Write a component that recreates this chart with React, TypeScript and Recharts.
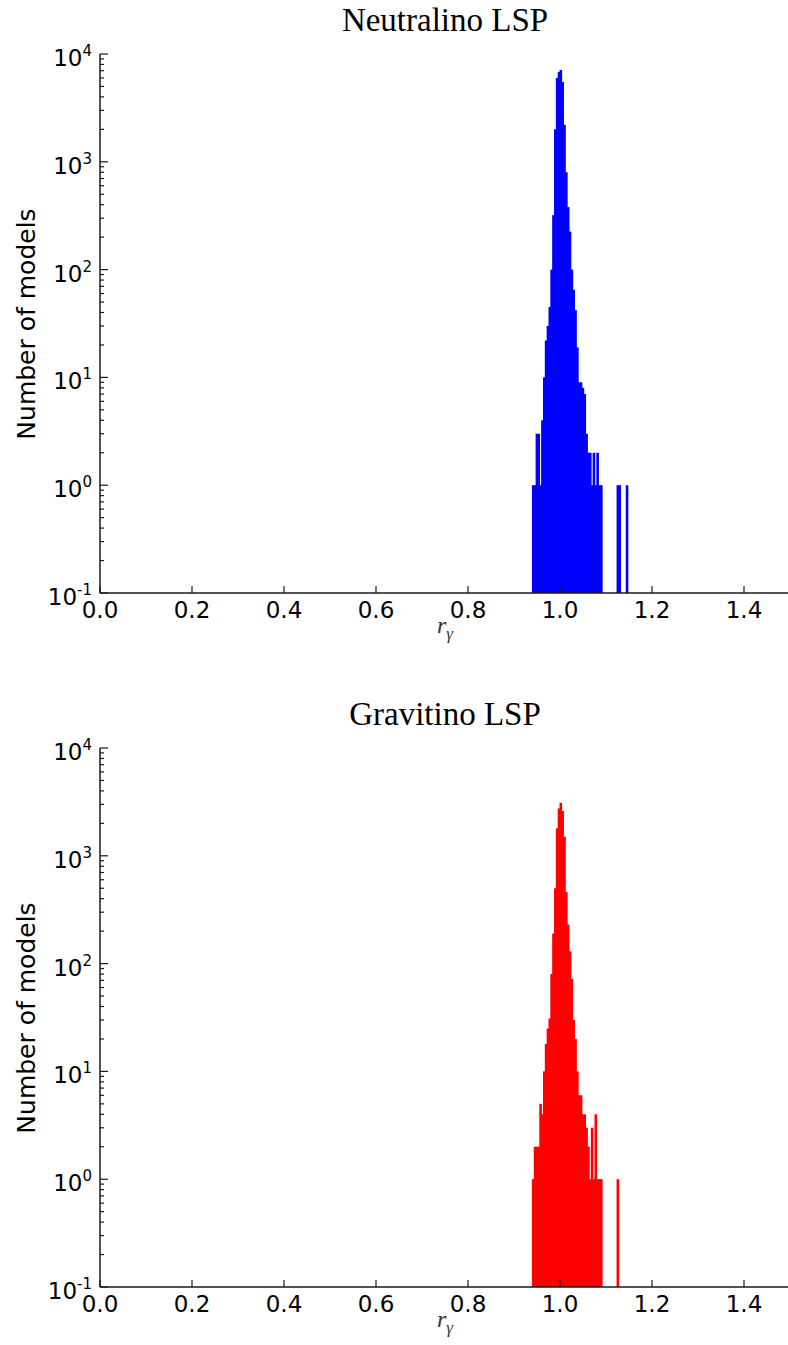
import React from "react";
import { BarChart, Bar, XAxis, YAxis } from "recharts";

// histogram bins (centre of each r_gamma bin, width 0.004)
const binCenters = [
  0.942, 0.946, 0.95, 0.954, 0.958, 0.962, 0.966, 0.97, 0.974, 0.978,
  0.982, 0.986, 0.99, 0.994, 0.998, 1.002, 1.006, 1.01, 1.014, 1.018,
  1.022, 1.026, 1.03, 1.034, 1.038, 1.042, 1.046, 1.05, 1.054, 1.058,
  1.062, 1.066, 1.07, 1.074, 1.078, 1.082, 1.086, 1.09, 1.094, 1.098,
  1.102, 1.106, 1.11, 1.114, 1.118, 1.122, 1.126, 1.13, 1.134, 1.138,
  1.142, 1.146,
];

const neutralinoCounts = [
  1, 1, 3, 3, 1, 4, 10, 22, 30, 45,
  100, 320, 2000, 6000, 6800, 7100, 5500, 2200, 800, 380,
  225, 100, 65, 42, 19, 9, 9, 8, 7, 3,
  2, 2, 1, 2, 1, 2, 1, 1, 0, 0,
  0, 0, 0, 0, 0, 0, 1, 1, 0, 0,
  0, 1,
];

const gravitinoCounts = [
  1, 2, 2, 2, 5, 4, 10, 18, 25, 31,
  80, 190, 500, 1800, 2750, 3100, 2600, 1500, 460, 230,
  130, 72, 30, 20, 10, 6, 6, 4, 4, 3,
  2, 1, 3, 1, 4, 1, 1, 1, 0, 0,
  0, 0, 0, 0, 0, 0, 1, 0, 0, 0,
  0, 0,
];

const xTicks = [0, 0.2, 0.4, 0.6, 0.8, 1.0, 1.2, 1.4];
const decadeTicks = [0.1, 1, 10, 100, 1000, 10000];
const minorTicks = [
  0.2, 0.3, 0.4, 0.5, 0.6, 0.7, 0.8, 0.9,
  2, 3, 4, 5, 6, 7, 8, 9,
  20, 30, 40, 50, 60, 70, 80, 90,
  200, 300, 400, 500, 600, 700, 800, 900,
  2000, 3000, 4000, 5000, 6000, 7000, 8000, 9000,
];
const yTicks = [...decadeTicks, ...minorTicks].sort((a, b) => a - b);

const W = 800;
const H = 660;
const PLOT_LEFT = 100;
const PLOT_RIGHT = 790;
const PLOT_TOP = 54;
const PLOT_BOTTOM = 593;
const BIN_PX = 2.6; // drawn width of one bin, a bit over the 1.84px spacing so bins join up
const AXIS = "#1a1a1a";
const SANS = "'DejaVu Sans', sans-serif";
const SERIF = "'Liberation Serif', 'DejaVu Serif', serif";

const BottomTick = (props: any) => {
  const { x, payload } = props;
  return (
    <g>
      <line x1={x} x2={x} y1={PLOT_BOTTOM} y2={PLOT_BOTTOM - 7} stroke={AXIS} strokeWidth={1.2} />
      <text x={x} y={PLOT_BOTTOM + 25} textAnchor="middle" fontFamily={SANS} fontSize={23} fill="#000">
        {payload.value.toFixed(1)}
      </text>
    </g>
  );
};

const TopTick = (props: any) => {
  const { x } = props;
  return <line x1={x} x2={x} y1={PLOT_TOP} y2={PLOT_TOP + 7} stroke={AXIS} strokeWidth={1.2} />;
};

const LeftTick = (props: any) => {
  const { y, payload } = props;
  const v = payload.value;
  const major = decadeTicks.includes(v);
  return (
    <g>
      <line x1={PLOT_LEFT} x2={PLOT_LEFT + (major ? 8 : 4)} y1={y} y2={y} stroke={AXIS} strokeWidth={1.2} />
      {major && (
        <text x={92} y={y + 12} textAnchor="end" fontFamily={SANS} fontSize={23} fill="#000">
          10
          <tspan dy={-10} fontSize={15}>
            {Math.round(Math.log10(v))}
          </tspan>
        </text>
      )}
    </g>
  );
};

const RightTick = (props: any) => {
  const { y, payload } = props;
  const major = decadeTicks.includes(payload.value);
  return (
    <line x1={PLOT_RIGHT} x2={PLOT_RIGHT - (major ? 8 : 4)} y1={y} y2={y} stroke={AXIS} strokeWidth={1.2} />
  );
};

// widen each bar around the centre recharts gives it
const BinShape = (props: any) => {
  const { x, y, width, height, fill } = props;
  if (!height || height <= 0) return null;
  const cx = x + width / 2;
  return <rect x={cx - BIN_PX / 2} y={y} width={BIN_PX} height={height} fill={fill} />;
};

function Panel({ top, title, counts, color }: { top: number; title: string; counts: number[]; color: string }) {
  const data = binCenters
    .map((x, i) => ({ x, count: counts[i] }))
    .filter((d) => d.count > 0);

  return (
    <div style={{ position: "absolute", left: 0, top, width: W, height: H }}>
      <BarChart
        width={W}
        height={H}
        data={data}
        margin={{ top: PLOT_TOP, right: W - PLOT_RIGHT, bottom: 27, left: 10 }}
      >
        <XAxis
          xAxisId="bottom"
          type="number"
          dataKey="x"
          domain={[0, 1.5]}
          ticks={xTicks}
          interval={0}
          tick={BottomTick}
          tickLine={false}
          axisLine={{ stroke: AXIS, strokeWidth: 1.5 }}
          height={40}
          allowDataOverflow
        />
        <XAxis
          xAxisId="top"
          orientation="top"
          type="number"
          dataKey="x"
          domain={[0, 1.5]}
          ticks={xTicks}
          interval={0}
          tick={TopTick}
          tickLine={false}
          axisLine={{ stroke: AXIS, strokeWidth: 1.5 }}
          height={0}
          allowDataOverflow
        />
        <YAxis
          yAxisId="left"
          type="number"
          scale="log"
          domain={[0.1, 10000]}
          ticks={yTicks}
          interval={0}
          tick={LeftTick}
          tickLine={false}
          axisLine={{ stroke: AXIS, strokeWidth: 1.5 }}
          width={90}
          allowDataOverflow
        />
        <YAxis
          yAxisId="right"
          orientation="right"
          type="number"
          scale="log"
          domain={[0.1, 10000]}
          ticks={yTicks}
          interval={0}
          tick={RightTick}
          tickLine={false}
          axisLine={{ stroke: AXIS, strokeWidth: 1.5 }}
          width={0}
          allowDataOverflow
        />
        <Bar
          xAxisId="bottom"
          yAxisId="left"
          dataKey="count"
          fill={color}
          barSize={2}
          shape={BinShape}
          isAnimationActive={false}
        />
      </BarChart>

      <div
        style={{
          position: "absolute",
          left: 0,
          top: 4,
          width: PLOT_LEFT + PLOT_RIGHT,
          textAlign: "center",
          fontFamily: SERIF,
          fontSize: 33,
          lineHeight: "33px",
          color: "#000",
        }}
      >
        {title}
      </div>

      <div
        style={{
          position: "absolute",
          left: 0,
          top: 613,
          width: PLOT_LEFT + PLOT_RIGHT,
          textAlign: "center",
          fontFamily: SERIF,
          fontSize: 24,
          lineHeight: "24px",
          fontStyle: "italic",
          color: "#333",
        }}
      >
        r<span style={{ fontSize: 17, position: "relative", top: 6 }}>γ</span>
      </div>

      <div
        style={{
          position: "absolute",
          left: 27 - 200,
          top: (PLOT_TOP + PLOT_BOTTOM) / 2 - 15,
          width: 400,
          height: 30,
          lineHeight: "30px",
          textAlign: "center",
          fontFamily: SANS,
          fontSize: 25,
          color: "#000",
          transform: "rotate(-90deg)",
        }}
      >
        Number of models
      </div>
    </div>
  );
}

export default function App() {
  return (
    <div
      style={{
        position: "absolute",
        left: 0,
        top: 0,
        width: 788,
        height: 1345,
        overflow: "hidden",
        background: "#fff",
      }}
    >
      <Panel top={0} title="Neutralino LSP" counts={neutralinoCounts} color="#0000ff" />
      <Panel top={694} title="Gravitino LSP" counts={gravitinoCounts} color="#ff0000" />
    </div>
  );
}
